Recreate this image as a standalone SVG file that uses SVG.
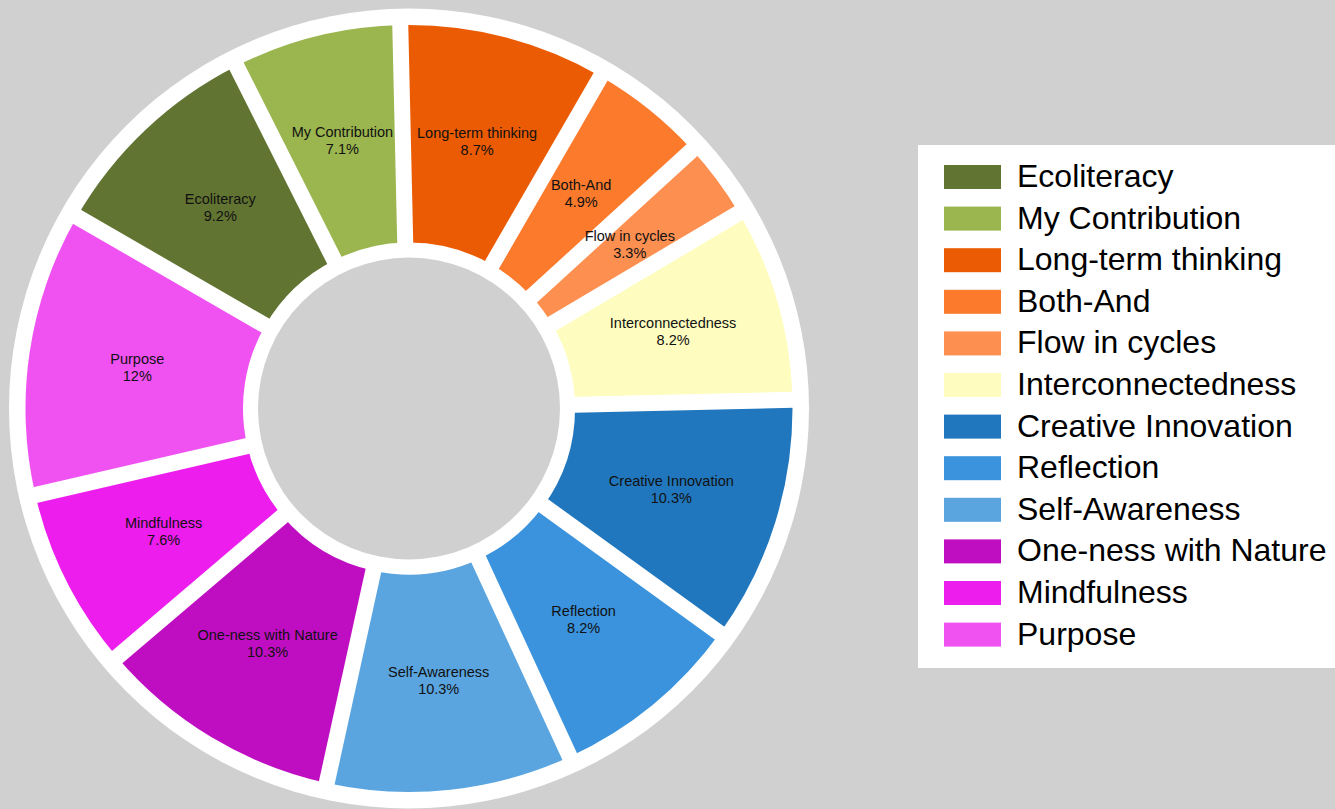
<svg xmlns="http://www.w3.org/2000/svg" width="1335" height="809" viewBox="0 0 1335 809">
<style>
.lbl{font-family:"Liberation Sans",Arial,sans-serif;font-size:14.5px;fill:#111;text-anchor:middle}
.leg{font-family:"Liberation Sans",Arial,sans-serif;font-size:32px;fill:#000}
.gap{stroke:#fff;stroke-width:16;stroke-linecap:butt;fill:none}
</style>
<rect x="0" y="0" width="1335" height="809" fill="#d0d0d0"/>
<circle cx="409" cy="408.5" r="400" fill="#fff"/>
<g id="slices">
<g id="ecoliteracy"><path d="M76.88,216.75 A383.5,383.5 0 0 1 236.46,66.01 L334.31,260.25 A166,166 0 0 0 265.24,325.5 Z" fill="#627432"/></g>
<g id="my-contribution"><path d="M236.46,66.01 A383.5,383.5 0 0 1 400.27,25.10 L405.22,242.54 A166,166 0 0 0 334.31,260.25 Z" fill="#9bb54f"/></g>
<g id="long-term-thinking"><path d="M400.27,25.10 A383.5,383.5 0 0 1 600.75,76.38 L492,264.74 A166,166 0 0 0 405.22,242.54 Z" fill="#eb5b03"/></g>
<g id="both-and"><path d="M600.75,76.38 A383.5,383.5 0 0 1 692.24,149.95 L531.60,296.58 A166,166 0 0 0 492,264.74 Z" fill="#fb7a2c"/></g>
<g id="flow-in-cycles"><path d="M692.24,149.95 A383.5,383.5 0 0 1 738.92,212.98 L551.81,323.87 A166,166 0 0 0 531.60,296.58 Z" fill="#fd8f51"/></g>
<g id="interconnectedness"><path d="M738.92,212.98 A383.5,383.5 0 0 1 792.40,399.77 L574.96,404.72 A166,166 0 0 0 551.81,323.87 Z" fill="#fefdbf"/></g>
<g id="creative-innovation"><path d="M792.40,399.77 A383.5,383.5 0 0 1 719.77,633.21 L543.52,505.77 A166,166 0 0 0 574.96,404.72 Z" fill="#2177bd"/></g>
<g id="reflection"><path d="M719.77,633.21 A383.5,383.5 0 0 1 569.76,756.68 L478.59,559.21 A166,166 0 0 0 543.52,505.77 Z" fill="#3a93dc"/></g>
<g id="self-awareness"><path d="M569.76,756.68 A383.5,383.5 0 0 1 326.71,783.07 L373.38,570.63 A166,166 0 0 0 478.59,559.21 Z" fill="#5aa5df"/></g>
<g id="one-ness-with-nature"><path d="M326.71,783.07 A383.5,383.5 0 0 1 117.10,657.23 L282.65,516.17 A166,166 0 0 0 373.38,570.63 Z" fill="#bf0ec2"/></g>
<g id="mindfulness"><path d="M117.10,657.23 A383.5,383.5 0 0 1 35.39,495.05 L247.28,445.96 A166,166 0 0 0 282.65,516.17 Z" fill="#ec1ded"/></g>
<g id="purpose"><path d="M35.39,495.05 A383.5,383.5 0 0 1 76.88,216.75 L265.24,325.5 A166,166 0 0 0 247.28,445.96 Z" fill="#f052f2"/></g>
</g>
<g id="separators">
<line class="gap" x1="409" y1="408.5" x2="66.92" y2="211.0"/>
<line class="gap" x1="409" y1="408.5" x2="231.28" y2="55.74"/>
<line class="gap" x1="409" y1="408.5" x2="400.01" y2="13.60"/>
<line class="gap" x1="409" y1="408.5" x2="606.5" y2="66.42"/>
<line class="gap" x1="409" y1="408.5" x2="700.73" y2="142.19"/>
<line class="gap" x1="409" y1="408.5" x2="748.81" y2="207.12"/>
<line class="gap" x1="409" y1="408.5" x2="803.90" y2="399.51"/>
<line class="gap" x1="409" y1="408.5" x2="729.09" y2="639.95"/>
<line class="gap" x1="409" y1="408.5" x2="574.58" y2="767.12"/>
<line class="gap" x1="409" y1="408.5" x2="324.24" y2="794.30"/>
<line class="gap" x1="409" y1="408.5" x2="108.35" y2="664.69"/>
<line class="gap" x1="409" y1="408.5" x2="24.19" y2="497.64"/>
</g>
<circle cx="409" cy="408.5" r="151" fill="#d0d0d0"/>
<g id="labels">
<text class="lbl" x="220.3" y="204.3">Ecoliteracy<tspan x="220.3" dy="17">9.2%</tspan></text>
<text class="lbl" x="342.4" y="137.4">My Contribution<tspan x="342.4" dy="17">7.1%</tspan></text>
<text class="lbl" x="477.1" y="137.8">Long-term thinking<tspan x="477.1" dy="17">8.7%</tspan></text>
<text class="lbl" x="581.2" y="189.9">Both-And<tspan x="581.2" dy="17">4.9%</tspan></text>
<text class="lbl" x="629.8" y="240.5">Flow in cycles<tspan x="629.8" dy="17">3.3%</tspan></text>
<text class="lbl" x="673.1" y="328.4">Interconnectedness<tspan x="673.1" dy="17">8.2%</tspan></text>
<text class="lbl" x="671.3" y="485.6">Creative Innovation<tspan x="671.3" dy="17">10.3%</tspan></text>
<text class="lbl" x="583.6" y="616.1">Reflection<tspan x="583.6" dy="17">8.2%</tspan></text>
<text class="lbl" x="438.7" y="677.2">Self-Awareness<tspan x="438.7" dy="17">10.3%</tspan></text>
<text class="lbl" x="267.6" y="639.6">One-ness with Nature<tspan x="267.6" dy="17">10.3%</tspan></text>
<text class="lbl" x="163.6" y="527.6">Mindfulness<tspan x="163.6" dy="17">7.6%</tspan></text>
<text class="lbl" x="137.3" y="363.5">Purpose<tspan x="137.3" dy="17">12%</tspan></text>
</g>
<g id="legend">
<rect x="918" y="145" width="420" height="523" fill="#fff"/>
<rect x="944" y="165" width="57" height="24" fill="#627432"/>
<text class="leg" x="1017" y="187">Ecoliteracy</text>
<rect x="944" y="206.6" width="57" height="24" fill="#9bb54f"/>
<text class="leg" x="1017" y="228.6">My Contribution</text>
<rect x="944" y="248.2" width="57" height="24" fill="#eb5b03"/>
<text class="leg" x="1017" y="270.2">Long-term thinking</text>
<rect x="944" y="289.8" width="57" height="24" fill="#fb7a2c"/>
<text class="leg" x="1017" y="311.8">Both-And</text>
<rect x="944" y="331.4" width="57" height="24" fill="#fd8f51"/>
<text class="leg" x="1017" y="353.4">Flow in cycles</text>
<rect x="944" y="373" width="57" height="24" fill="#fefdbf"/>
<text class="leg" x="1017" y="395">Interconnectedness</text>
<rect x="944" y="414.6" width="57" height="24" fill="#2177bd"/>
<text class="leg" x="1017" y="436.6">Creative Innovation</text>
<rect x="944" y="456.2" width="57" height="24" fill="#3a93dc"/>
<text class="leg" x="1017" y="478.2">Reflection</text>
<rect x="944" y="497.8" width="57" height="24" fill="#5aa5df"/>
<text class="leg" x="1017" y="519.8">Self-Awareness</text>
<rect x="944" y="539.4" width="57" height="24" fill="#bf0ec2"/>
<text class="leg" x="1017" y="561.4">One-ness with Nature</text>
<rect x="944" y="581" width="57" height="24" fill="#ec1ded"/>
<text class="leg" x="1017" y="603">Mindfulness</text>
<rect x="944" y="622.6" width="57" height="24" fill="#f052f2"/>
<text class="leg" x="1017" y="644.6">Purpose</text>
</g>
</svg>
